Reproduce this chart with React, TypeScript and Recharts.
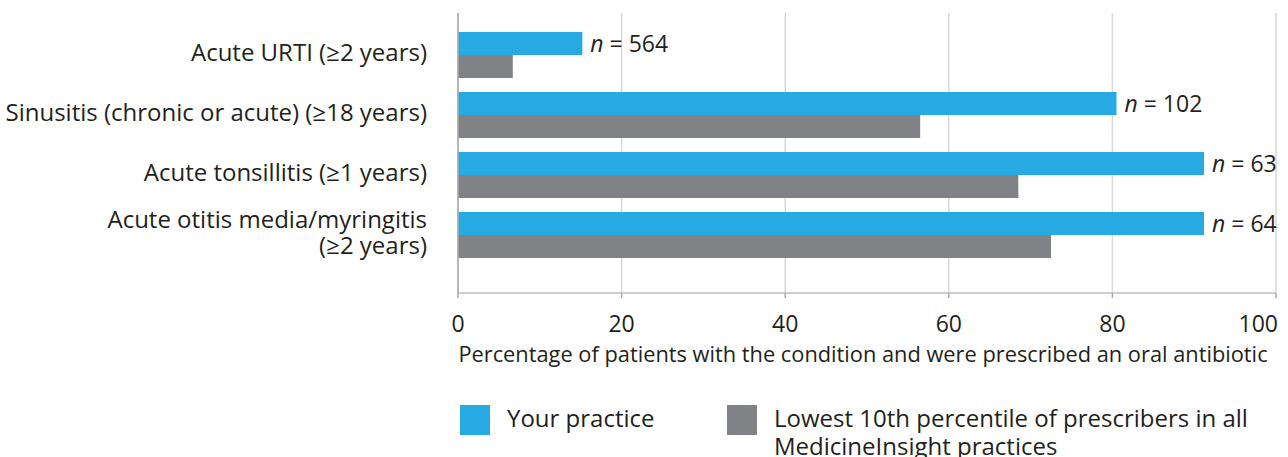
import { BarChart, Bar, XAxis, YAxis, CartesianGrid, Legend, LabelList } from 'recharts';

const conditions = [
  'Acute URTI (≥2 years)',
  'Sinusitis (chronic or acute) (≥18 years)',
  'Acute tonsillitis (≥1 years)',
  'Acute otitis media/myringitis|(≥2 years)',
];
const yourPractice = [15.2, 80.5, 91.2, 91.2];
const lowest10th = [6.7, 56.5, 68.5, 72.5];
const patientCounts = [564, 102, 63, 64];
const xTicks = [0, 20, 40, 60, 80, 100];

const BLUE = '#27a9e1';
const GREY = '#808285';
const TEXT = '#231f20';
const FONT = '"Open Sans", sans-serif';

const data = conditions.map((name, i) => ({
  name,
  practice: yourPractice[i],
  lowest: lowest10th[i],
  n: patientCounts[i],
}));

function ConditionTick({ x, y, payload }: any) {
  const lines = String(payload.value).split('|');
  const lineH = 26;
  const start = y - 2 - ((lines.length - 1) * lineH) / 2;
  return (
    <text x={x} textAnchor="end" fill={TEXT} fontSize={24} fontFamily={FONT}>
      {lines.map((l, i) => (
        <tspan key={i} x={x} y={start + i * lineH} dy="0.35em">
          {l}
        </tspan>
      ))}
    </text>
  );
}

function PercentTick({ x, y, payload }: any) {
  const last = payload.value === xTicks[xTicks.length - 1];
  return (
    <text
      x={last ? x + 2 : x}
      y={y}
      dy="0.71em"
      textAnchor={last ? 'end' : 'middle'}
      fill={TEXT}
      fontSize={23}
      fontFamily={FONT}
    >
      {payload.value}
    </text>
  );
}

function CountLabel({ x, y, width, height, value }: any) {
  return (
    <text x={x + width + 8} y={y + height / 2} dy="0.35em" fill={TEXT} fontSize={23} fontFamily={FONT}>
      <tspan fontStyle="italic">n</tspan>
      <tspan> = {value}</tspan>
    </text>
  );
}

function AxisTitle({ viewBox }: any) {
  return (
    <text
      x={viewBox.x + viewBox.width / 2 - 4}
      y={viewBox.y + 69}
      textAnchor="middle"
      fill={TEXT}
      fontSize={21.8}
      fontFamily={FONT}
    >
      Percentage of patients with the condition and were prescribed an oral antibiotic
    </text>
  );
}

function LegendBox() {
  const item = { display: 'flex', alignItems: 'flex-start' } as const;
  const swatch = (c: string) => ({ width: 30, height: 30, background: c, flexShrink: 0, marginTop: 1 });
  const label = { marginLeft: 17, fontSize: 24, lineHeight: '28px', color: TEXT, fontFamily: FONT, whiteSpace: 'nowrap' as const };
  return (
    <div style={{ display: 'flex' }}>
      <div style={{ ...item, width: 267 }}>
        <div style={swatch(BLUE)} />
        <div style={label}>Your practice</div>
      </div>
      <div style={item}>
        <div style={swatch(GREY)} />
        <div style={label}>
          Lowest 10th percentile of prescribers in all
          <br />
          MedicineInsight practices
        </div>
      </div>
    </div>
  );
}

export default function App() {
  return (
    <div style={{ position: 'absolute', left: 0, top: 0, width: 1288, height: 457, background: '#fff', overflow: 'hidden' }}>
      <BarChart
        width={1288}
        height={457}
        data={data}
        layout="vertical"
        margin={{ top: 13, right: 12, bottom: 84, left: 0 }}
        barGap={0}
        barSize={23}
      >
        <CartesianGrid horizontal={false} stroke="#d9d9d9" strokeWidth={1.5} />
        <XAxis
          type="number"
          domain={[0, 100]}
          ticks={xTicks}
          height={80}
          tickSize={5}
          tickMargin={18}
          axisLine={{ stroke: '#bcbec0', strokeWidth: 1.5 }}
          tickLine={{ stroke: '#a7a9ac', strokeWidth: 1.5 }}
          tick={<PercentTick />}
          label={<AxisTitle />}
        />
        <YAxis
          type="category"
          dataKey="name"
          width={458}
          padding={{ top: 12, bottom: 28 }}
          tickSize={0}
          tickMargin={31}
          tickLine={false}
          axisLine={{ stroke: '#a7a9ac', strokeWidth: 1.5 }}
          tick={<ConditionTick />}
        />
        <Legend
          layout="horizontal"
          verticalAlign="middle"
          content={<LegendBox />}
          wrapperStyle={{ position: 'absolute', top: 404, left: 460, width: 828 }}
        />
        <Bar dataKey="practice" name="Your practice" fill={BLUE} isAnimationActive={false}>
          <LabelList dataKey="n" content={<CountLabel />} />
        </Bar>
        <Bar dataKey="lowest" name="Lowest 10th percentile" fill={GREY} isAnimationActive={false} />
      </BarChart>
    </div>
  );
}
